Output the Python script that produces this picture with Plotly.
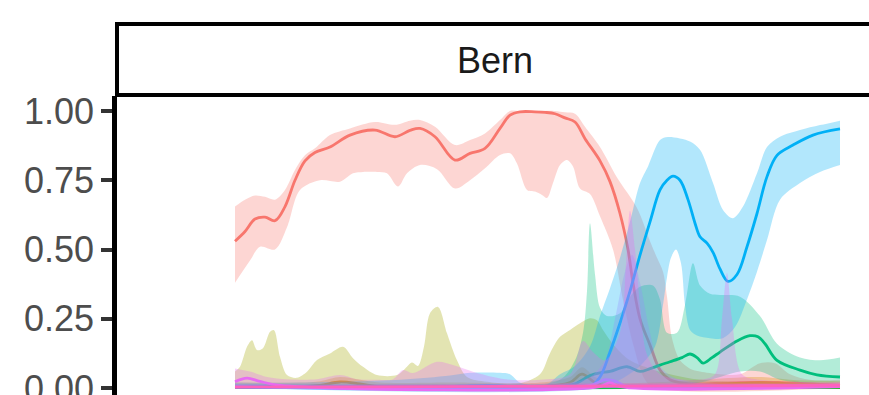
import plotly.graph_objects as go

# Smoothed share per group along position t, with confidence band (lo/hi).
# Palette: ggplot-style hue colours for ten groups.
group_colors = ["#F8766D", "#D89000", "#A3A500", "#39B600", "#00BF7D",
                "#00BFC4", "#00B0F6", "#9590FF", "#E76BF3", "#FF62BC"]

# --- group 1 (red)
red_t = [0, 10, 20, 30, 40, 50, 60, 70, 80, 95, 115, 140, 160, 175, 185, 200, 220, 235, 250, 265,
         275, 285, 300, 310, 320, 330, 340, 350, 365, 375, 385, 393, 398, 405, 415, 425, 435, 445, 465, 505,
         545, 605]
red_mid = [.53, .565, .61, .617, .604, .655, .75, .82, .85, .87, .913, .931, .907, .93, .937, .907, .823, .847, .865, .937,
           .985, .997, .997, .995, .99, .975, .96, .9, .82, .745, .63, .5, .38, .25, .155, .065, .03, .02, .015, .02,
           .02, .01]
red_hi_t = [0, 10, 20, 30, 40, 50, 60, 70, 80, 95, 115, 140, 160, 175, 185, 200, 220, 235, 250, 265,
            275, 285, 300, 320, 330, 340, 350, 365, 382, 402, 415, 422, 428, 432, 437, 445, 455, 465, 485, 505,
            525, 540, 555, 575, 605]
red_hi = [.655, .68, .695, .69, .68, .715, .787, .84, .865, .913, .937, .96, .95, .965, .967, .943, .877, .895, .919, .967,
          1.0, 1.0, 1.0, 1.0, .995, .99, .943, .87, .76, .65, .53, .47, .42, .33, .18, .1, .07, .06, .05, .05,
          .09, .09, .05, .03, .03]
red_lo_t = [0, 15, 25, 40, 52, 65, 85, 105, 118, 128, 142, 152, 163, 172, 185, 202, 220, 235, 250, 265,
            275, 282, 292, 300, 307, 312, 318, 325, 332, 338, 345, 355, 365, 378, 388, 398, 410, 420, 605]
red_lo = [.38, .46, .51, .50, .58, .715, .75, .745, .775, .78, .78, .775, .727, .775, .805, .79, .72, .75, .793, .841,
          .847, .81, .715, .709, .697, .686, .74, .805, .823, .80, .72, .70, .62, .5, .318, .16, .03, 0, 0]

# --- group 2 (orange)
orange_t = [0, 65, 85, 105, 125, 145, 215, 305, 335, 347, 360, 375, 415, 465, 525, 555, 605]
orange_mid = [.005, .005, .01, .022, .015, .005, .005, .005, .02, .05, .02, .005, .005, .01, .02, .015, .01]
orange_hi = [.02, .02, .025, .04, .03, .02, .02, .02, .04, .075, .04, .02, .02, .03, .04, .03, .025]
orange_lo = [0] * 17

# --- group 3 (olive)
olive_t = [0, 605]
olive_mid = [.003, .003]
olive_lo = [0, 0]
olive_hi_t = [0, 5, 12, 17, 22, 28, 35, 39, 45, 52, 62, 72, 82, 95, 108, 118, 128, 142, 162, 170,
              177, 183, 189, 195, 203, 212, 222, 232, 252, 285, 305, 315, 325, 335, 345, 355, 362, 368, 380, 395,
              415, 435, 465, 525, 605]
olive_hi = [.06, .077, .149, .173, .137, .144, .203, .209, .113, .047, .037, .059, .101, .125, .149, .108, .077, .047, .047, .07,
            .092, .08, .15, .27, .293, .198, .1, .04, .023, .018, .05, .126, .185, .21, .234, .252, .245, .21, .15, .1,
            .07, .05, .03, .02, .02]

# --- group 4 (green)
green_t = [0, 605]
green_mid = [.002, .002]
green_hi = [.008, .008]
green_lo = [0, 0]

# --- group 5 (emerald)
emerald_t = [0, 265, 325, 340, 355, 365, 375, 392, 405, 415, 425, 435, 447, 455, 462, 468, 477, 485, 502, 515,
             523, 530, 542, 565, 582, 605]
emerald_mid = [.002, .003, .005, .015, .045, .055, .06, .077, .06, .07, .083, .095, .11, .123, .11, .09, .11, .13, .17, .189,
               .185, .16, .1, .065, .048, .04]
emerald_hi_t = [0, 265, 325, 340, 348, 352, 355, 360, 365, 372, 385, 395, 405, 418, 425, 432, 442, 450, 458, 465,
                475, 485, 505, 525, 542, 565, 585, 605]
emerald_hi = [.01, .01, .03, .1, .2, .35, .595, .41, .29, .26, .27, .33, .366, .37, .32, .2, .2, .3, .45, .37,
              .34, .336, .33, .26, .16, .11, .1, .11]
emerald_lo_t = [0, 415, 465, 505, 525, 545, 565, 605]
emerald_lo = [0, 0, .02, .06, .06, .03, .02, .02]

# --- group 6 (teal)
teal_t = [0, 605]
teal_mid = [.004, .004]
teal_hi = [.015, .015]
teal_lo = [0, 0]

# --- group 7 (blue)
blue_t = [0, 165, 215, 235, 265, 275, 285, 325, 355, 365, 375, 385, 395, 405, 415, 425, 432, 438, 445, 453,
          460, 465, 472, 478, 485, 493, 502, 512, 522, 532, 542, 558, 578, 605]
blue_mid = [.003, .003, .005, .008, .008, .005, .002, 0, .005, .04, .13, .235, .35, .48, .6, .715, .75, .765, .75, .68,
            .595, .546, .523, .49, .43, .385, .41, .51, .63, .763, .84, .877, .913, .935]
blue_hi_t = [0, 65, 165, 215, 235, 265, 275, 285, 310, 325, 340, 355, 365, 375, 385, 395, 405, 413, 425, 433,
             455, 465, 478, 488, 498, 508, 522, 532, 545, 565, 585, 605]
blue_hi = [.02, .02, .03, .045, .055, .055, .05, .02, .01, .05, .08, .15, .26, .36, .47, .6, .74, .8, .895, .906,
           .89, .86, .74, .643, .613, .655, .775, .87, .907, .931, .949, .965]
blue_lo_t = [0, 365, 385, 405, 420, 428, 432, 436, 441, 446, 450, 455, 462, 475, 488, 500, 512, 522, 532, 545,
             565, 585, 605]
blue_lo = [0, 0, .03, .08, .15, .3, .4, .47, .5, .45, .3, .21, .19, .18, .18, .22, .32, .42, .534, .68,
           .74, .78, .805]

# --- group 8 (lavender)
lavender_t = [0, 355, 370, 380, 390, 400, 605]
lavender_mid = [.005, .01, .03, .025, .008, .005, .005]
lavender_hi_t = [0, 325, 355, 370, 380, 390, 397, 405, 415, 425, 445, 605]
lavender_hi = [.015, .015, .04, .1, .25, .42, .48, .38, .2, .08, .03, .02]
lavender_lo_t = [0, 605]
lavender_lo = [0, 0]

# --- group 9 (magenta)
magenta_t = [0, 12, 25, 45, 365, 375, 385, 605]
magenta_mid = [.023, .036, .024, .01, .005, .02, .005, .005]
magenta_hi_t = [0, 15, 32, 52, 82, 105, 122, 142, 158, 168, 178, 202, 218, 238, 258, 275, 305, 335, 348, 358,
                370, 385, 391, 395, 400, 405, 412, 425, 465, 480, 487, 492, 497, 507, 525, 605]
magenta_hi = [.071, .06, .04, .032, .032, .047, .032, .03, .032, .065, .054, .095, .083, .059, .04, .03, .03, .05, .17, .13,
              .1, .2, .45, .64, .5, .3, .12, .05, .03, .05, .25, .415, .25, .05, .03, .02]
magenta_lo_t = [0, 605]
magenta_lo = [0, 0]

# --- group 10 (pink)
pink_t = [0, 425, 605]
pink_mid = [.003, .008, .01]
pink_hi = [.012, .018, .02]
pink_lo = [0, 0, 0]

groups = [
    (red_t, red_mid, red_lo_t, red_lo, red_hi_t, red_hi),
    (orange_t, orange_mid, orange_t, orange_lo, orange_t, orange_hi),
    (olive_t, olive_mid, olive_t, olive_lo, olive_hi_t, olive_hi),
    (green_t, green_mid, green_t, green_lo, green_t, green_hi),
    (emerald_t, emerald_mid, emerald_lo_t, emerald_lo, emerald_hi_t, emerald_hi),
    (teal_t, teal_mid, teal_t, teal_lo, teal_t, teal_hi),
    (blue_t, blue_mid, blue_lo_t, blue_lo, blue_hi_t, blue_hi),
    (lavender_t, lavender_mid, lavender_lo_t, lavender_lo, lavender_hi_t, lavender_hi),
    (magenta_t, magenta_mid, magenta_lo_t, magenta_lo, magenta_hi_t, magenta_hi),
    (pink_t, pink_mid, pink_t, pink_lo, pink_t, pink_hi),
]


def rgba(hex_color, a):
    h = hex_color.lstrip("#")
    r, g, b = int(h[0:2], 16), int(h[2:4], 16), int(h[4:6], 16)
    return f"rgba({r},{g},{b},{a})"


fig = go.Figure()
for color, (t, mid, lo_t, lo, hi_t, hi) in zip(group_colors, groups):
    # band: lower edge, then upper edge filled down to it, then the smoothed line
    fig.add_trace(go.Scatter(x=lo_t, y=lo, mode="lines",
                             line=dict(width=0, shape="spline", smoothing=0.9),
                             hoverinfo="skip", showlegend=False))
    fig.add_trace(go.Scatter(x=hi_t, y=hi, mode="lines", fill="tonexty",
                             fillcolor=rgba(color, 0.3),
                             line=dict(width=0, shape="spline", smoothing=0.9),
                             hoverinfo="skip", showlegend=False))
    fig.add_trace(go.Scatter(x=t, y=mid, mode="lines",
                             line=dict(color=color, width=2.8, shape="spline", smoothing=1.0),
                             showlegend=False))

y_ticks = [0, 0.25, 0.5, 0.75, 1.0]
y_tick_text = ["0.00", "0.25", "0.50", "0.75", "1.00"]

fig.update_layout(
    width=869, height=395,
    margin=dict(l=117, r=0, t=96, b=0, autoexpand=False),
    paper_bgcolor="white", plot_bgcolor="white",
    font=dict(family="Liberation Sans, Arial, sans-serif"),
    xaxis=dict(range=[-118, 634], visible=False, automargin=False),
    yaxis=dict(range=[-0.025, 1.054], tickvals=y_ticks, ticktext=y_tick_text,
               showgrid=False, zeroline=False, automargin=False,
               showline=True, linecolor="black", linewidth=4.5,
               ticks="outside", ticklen=11, tickwidth=4, tickcolor="#333333",
               ticklabeloverflow="allow",
               tickfont=dict(size=36, color="#4D4D4D")),
)

# facet strip
fig.add_shape(type="rect", xref="paper", yref="paper",
              x0=0, x1=1.012, y0=1.0033, y1=1.2408,
              line=dict(color="black", width=4), fillcolor="white", layer="above")
fig.add_annotation(text="Bern", xref="paper", yref="paper", x=0.5027, y=1.1204,
                   xanchor="center", yanchor="middle", showarrow=False,
                   font=dict(size=36, color="#1A1A1A"))

fig.write_html("out.html")
